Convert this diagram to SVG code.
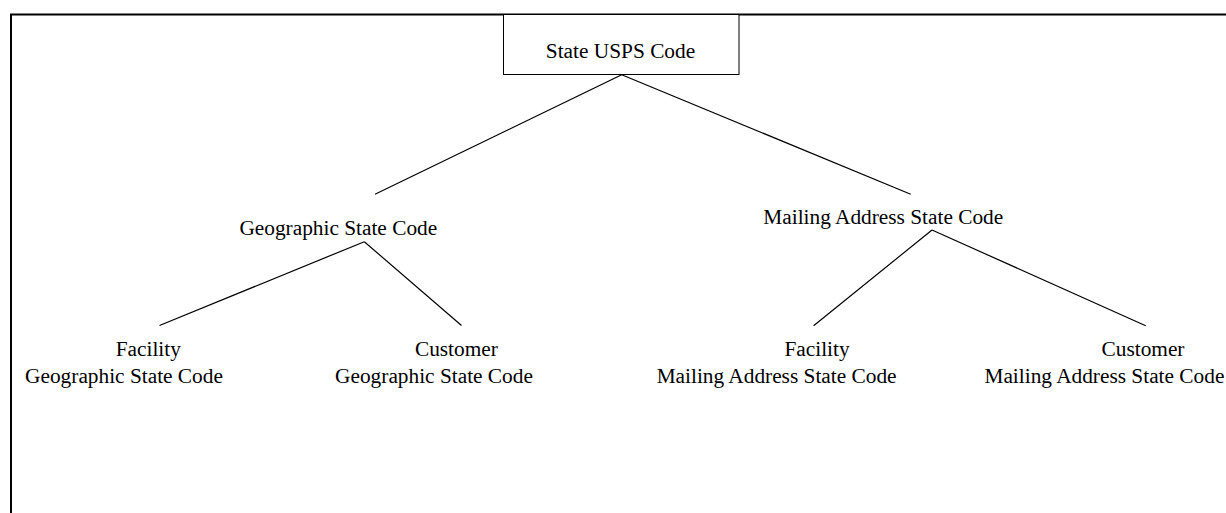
<svg xmlns="http://www.w3.org/2000/svg" width="1226" height="513" viewBox="0 0 1226 513">
<style>
text{font-family:"Liberation Serif","Times New Roman",serif;font-size:21.33px;fill:#000}
.c{text-anchor:middle}
.frame{stroke:#000;stroke-width:2;fill:none}
.box{fill:#fff;stroke:#000;stroke-width:1}
.edge{stroke:#000;stroke-width:1.2;fill:none}
</style>
<rect x="0" y="0" width="1226" height="513" fill="#fff"/>
<g id="frame">
<path class="frame" d="M11,513 V14.5 H1226"/>
</g>
<g id="connectors">
<line class="edge" x1="621.7" y1="74.7" x2="375" y2="194.3"/>
<line class="edge" x1="621.7" y1="74.7" x2="910.7" y2="194.3"/>
<line class="edge" x1="364.3" y1="241.7" x2="159.5" y2="325.5"/>
<line class="edge" x1="364.3" y1="241.7" x2="461.5" y2="325.5"/>
<line class="edge" x1="932" y1="230" x2="813.6" y2="325.7"/>
<line class="edge" x1="932" y1="230" x2="1145.7" y2="325.7"/>
</g>
<g id="node-state-usps-code">
<rect class="box" x="503.5" y="14.5" width="235.5" height="60"/>
<text class="c" x="620.5" y="58">State USPS Code</text>
</g>
<g id="node-geographic-state-code">
<text class="c" x="338.3" y="235">Geographic State Code</text>
</g>
<g id="node-mailing-address-state-code">
<text class="c" x="883.3" y="224">Mailing Address State Code</text>
</g>
<g id="node-facility-geographic">
<text class="c" x="148.3" y="356">Facility</text>
<text class="c" x="124" y="383.3">Geographic State Code</text>
</g>
<g id="node-customer-geographic">
<text class="c" x="456.4" y="356">Customer</text>
<text class="c" x="434" y="383.3">Geographic State Code</text>
</g>
<g id="node-facility-mailing">
<text class="c" x="817" y="356">Facility</text>
<text class="c" x="776.6" y="383.3">Mailing Address State Code</text>
</g>
<g id="node-customer-mailing">
<text class="c" x="1143" y="356">Customer</text>
<text class="c" x="1104.4" y="383.3">Mailing Address State Code</text>
</g>
</svg>
